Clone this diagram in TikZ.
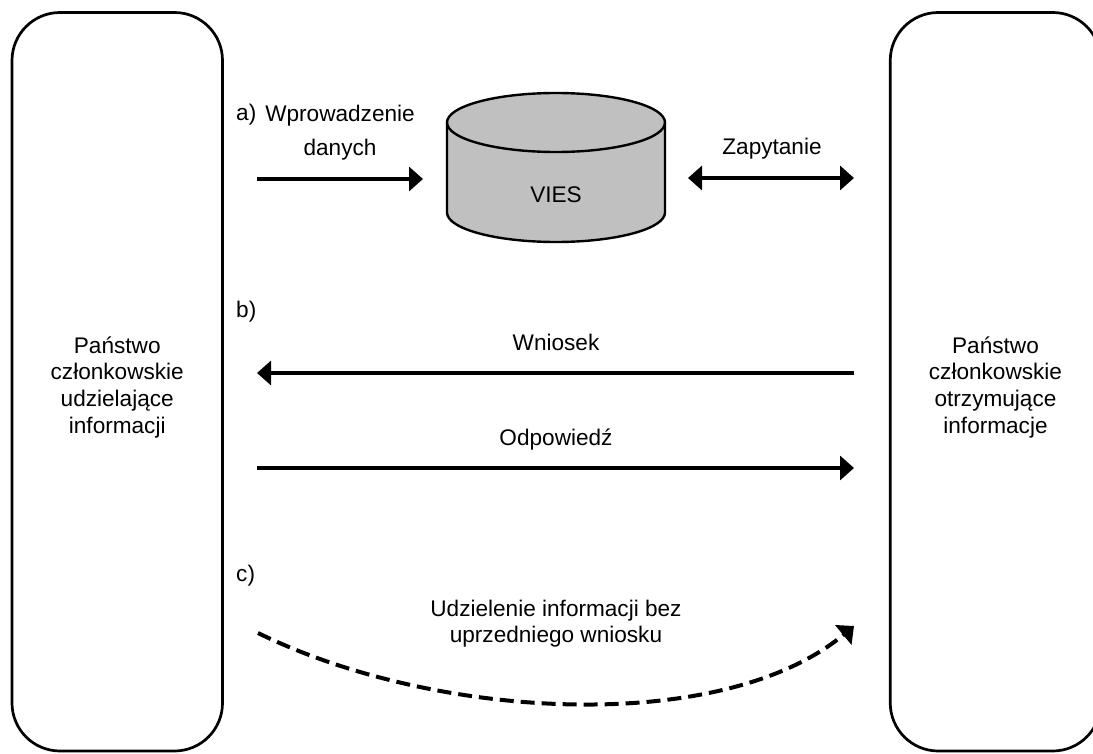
\documentclass[tikz,border=0pt]{standalone}
\usepackage{fontspec}
\setmainfont{Liberation Sans}
\usetikzlibrary{arrows.meta}
\definecolor{viesgray}{RGB}{192,192,192}
\begin{document}
\begin{tikzpicture}[x=1pt,y=-1pt,
  box/.style={draw, line width=2.7pt, rounded corners=48pt, minimum width=210.5pt, minimum height=738.5pt, inner sep=0pt},
  lbl/.style={inner sep=0pt, font=\fontsize{22.6pt}{26.7pt}\selectfont},
  conn/.style={line width=3.3pt, -{Triangle[length=14pt,width=24pt]}},
  bothconn/.style={line width=3.3pt, {Triangle[length=14pt,width=24pt]}-{Triangle[length=14pt,width=24pt]}},
  dashconn/.style={line width=4pt, dash pattern=on 14pt off 7pt, -{Triangle[length=14pt,width=25pt]}},
  db/.style={fill=viesgray, draw=black, line width=2.4pt, line join=round}]
\useasboundingbox (0,0) rectangle (1093,754);
\begin{scope}
  \clip (0,0) rectangle (1093,754);
  \node[box] (left) at (117.25,381.75) {};
  \node[box] (right) at (995.5,381.75) {};
\end{scope}
% database cylinder
\path[db] (447,122.5) -- (447,212.5)
  arc[start angle=180, end angle=360, x radius=109pt, y radius=29.5pt]
  -- (665,122.5)
  arc[start angle=0, end angle=180, x radius=109pt, y radius=29.5pt] -- cycle;
\draw[line width=2.4pt] (447,122.5) arc[start angle=180, end angle=360, x radius=109pt, y radius=29.5pt];
\node[lbl, anchor=base] (vies) at (556,203) {VIES};
% texts
\node[lbl, align=center] (ltext) at (117.25,387.3) {Państwo\\członkowskie\\udzielające\\informacji};
\node[lbl, align=center] (rtext) at (995.5,387.3) {Państwo\\członkowskie\\otrzymujące\\informacje};
\node[lbl, anchor=base west] (la) at (236,121) {a)};
\node[inner sep=0pt, font=\fontsize{22.6pt}{34pt}\selectfont, align=center] (lwpr) at (340,132.3) {Wprowadzenie\\danych};
\node[lbl, anchor=base] (lzap) at (772,155) {Zapytanie};
\node[lbl, anchor=base west] (lb) at (236,317) {b)};
\node[lbl, anchor=base] (lwn) at (556,350) {Wniosek};
\node[lbl, anchor=base] (lodp) at (556,445) {Odpowiedź};
\node[lbl, anchor=base west] (lc) at (236,581) {c)};
\node[lbl, align=center] (lud) at (556,623.8) {Udzielenie informacji bez\\uprzedniego wniosku};
% connectors
\coordinate (a0) at (257,179);
\coordinate (a1) at (423,179);
\draw[conn] (a0) -- (a1);
\coordinate (z0) at (688,178);
\coordinate (z1) at (854,178);
\draw[bothconn] (z0) -- (z1);
\coordinate (w0) at (854,373);
\coordinate (w1) at (257,373);
\draw[conn] (w0) -- (w1);
\coordinate (o0) at (257,468);
\coordinate (o1) at (854,468);
\draw[conn] (o0) -- (o1);
\coordinate (d0) at (258,633);
\coordinate (d1) at (854,626);
\draw[dashconn] (d0) .. controls (438,721) and (723,735) .. (d1);
\end{tikzpicture}
\end{document}
